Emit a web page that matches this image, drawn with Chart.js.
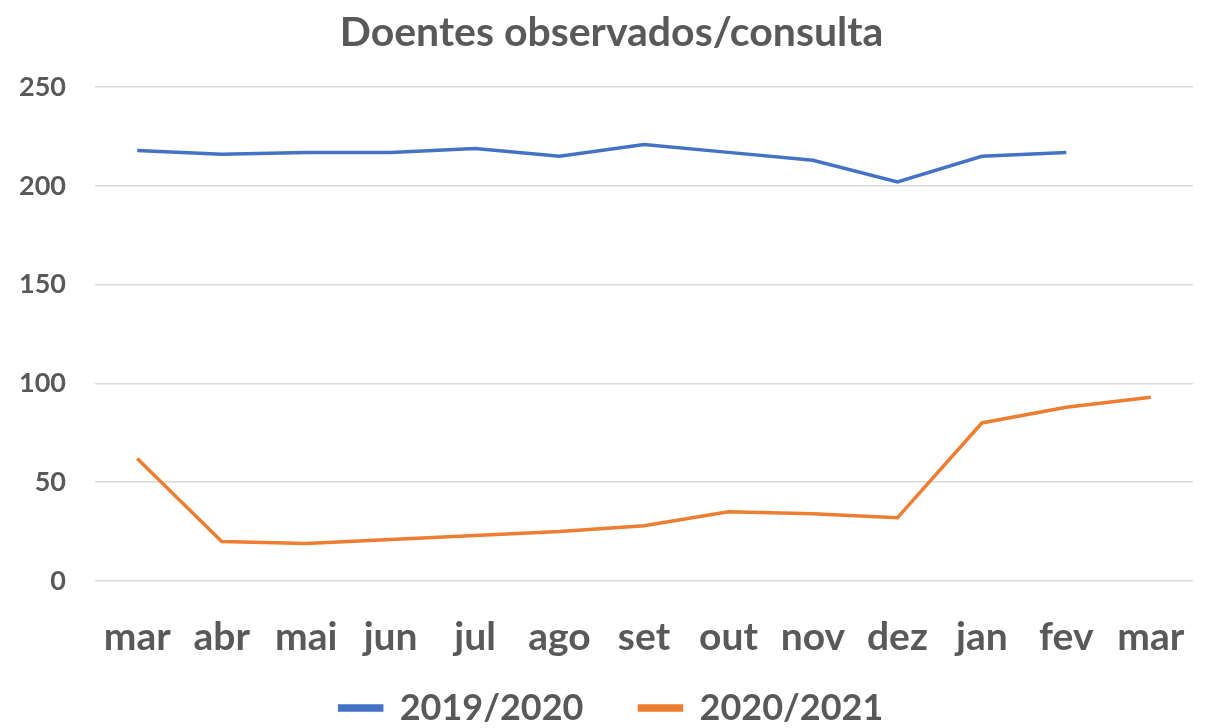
<!DOCTYPE html>
<html>
<head>
<meta charset="utf-8">
<script src="https://cdn.jsdelivr.net/npm/chart.js@4"></script>
<style>
  html, body { margin: 0; padding: 0; background: #fff; }
  #wrap { width: 1210px; height: 728px; }
</style>
</head>
<body>
<div id="wrap"><canvas id="chart"></canvas></div>
<script>
// データ
const months = ['mar', 'abr', 'mai', 'jun', 'jul', 'ago', 'set', 'out', 'nov', 'dez', 'jan', 'fev', 'mar'];
const season1 = [218, 216, 217, 217, 219, 215, 221, 217, 213, 202, 215, 217, null];
const season2 = [62, 20, 19, 21, 23, 25, 28, 35, 34, 32, 80, 88, 93];
const yTicks = [0, 50, 100, 150, 200, 250];

const textColor = '#595959';
const fontFamily = 'Lato, "Open Sans", sans-serif';

// 凡例: 項目間は広く、上下は詰める
const legendItemGap = 56;
const legendVPad = 2;
// タイトルと凡例はグラフ領域の中央に寄せる
const centerShift = 15;

const layoutTweaks = {
    id: 'layoutTweaks',
    afterInit(chart) {
        const legend = chart.legend;
        const fit = legend.fit;
        legend.fit = function () {
            fit.call(this);
            if (this.isHorizontal()) {
                this.height = this.options.labels.font.size + legendVPad * 2;
            }
        };
        const drawLegend = legend._draw;
        legend._draw = function () {
            const shift = legendItemGap - legendVPad;
            this.top -= shift;
            this.left += centerShift;
            this.right += centerShift;
            drawLegend.call(this);
            this.top += shift;
            this.left -= centerShift;
            this.right -= centerShift;
        };

        const title = chart.titleBlock;
        const drawTitle = title.draw;
        title.draw = function () {
            this.left += centerShift;
            this.right += centerShift;
            drawTitle.call(this);
            this.left -= centerShift;
            this.right -= centerShift;
        };
    }
};

const ctx = document.getElementById('chart').getContext('2d');
new Chart(ctx, {
    type: 'line',
    data: {
        labels: months,
        datasets: [
            {
                label: '2019/2020',
                data: season1,
                borderColor: '#4472C4',
                backgroundColor: '#4472C4',
                borderWidth: 3.5,
                pointRadius: 0,
                tension: 0
            },
            {
                label: '2020/2021',
                data: season2,
                borderColor: '#ED7D31',
                backgroundColor: '#ED7D31',
                borderWidth: 3.5,
                pointRadius: 0,
                tension: 0
            }
        ]
    },
    options: {
        responsive: true,
        maintainAspectRatio: false,
        animation: false,
        layout: { padding: { left: 0, right: 17, top: 8, bottom: 0 } },
        plugins: {
            title: {
                display: true,
                text: 'Doentes observados/consulta',
                color: textColor,
                font: { family: fontFamily, size: 41, weight: 'bold' },
                padding: { top: 0, bottom: 30 }
            },
            legend: {
                position: 'bottom',
                labels: {
                    color: textColor,
                    font: { family: fontFamily, size: 36, weight: 'bold' },
                    boxWidth: 42,
                    boxHeight: 4,
                    padding: legendItemGap
                }
            },
            tooltip: { enabled: false }
        },
        scales: {
            x: {
                offset: true,
                afterFit: scale => { scale.height = 107; },
                grid: { display: false },
                border: { display: false },
                ticks: {
                    color: textColor,
                    font: { family: fontFamily, size: 39, weight: 'bold' },
                    padding: 25,
                    maxRotation: 0,
                    autoSkip: false
                }
            },
            y: {
                min: 0,
                max: 250,
                afterFit: scale => { scale.width = 95; },
                afterBuildTicks: scale => { scale.ticks = yTicks.map(v => ({ value: v })); },
                grid: { color: '#D9D9D9', lineWidth: 1.5, drawTicks: false },
                border: { display: false },
                ticks: {
                    color: textColor,
                    font: { family: fontFamily, size: 27, weight: 'bold' },
                    padding: 29
                }
            }
        }
    },
    plugins: [layoutTweaks]
});
</script>
</body>
</html>
